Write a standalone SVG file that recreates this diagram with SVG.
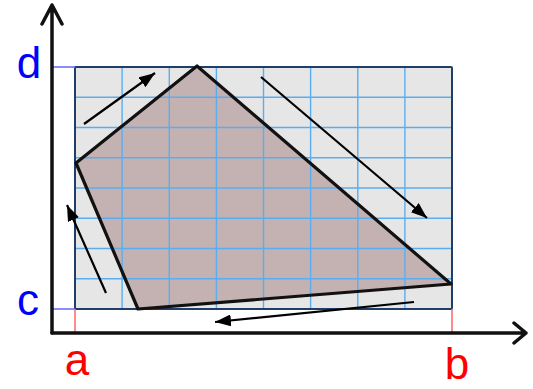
<svg xmlns="http://www.w3.org/2000/svg" width="533" height="389" viewBox="0 0 533 389">
<defs>
<marker id="ah" viewBox="0 0 16 12" refX="16" refY="6" markerWidth="16" markerHeight="12" markerUnits="userSpaceOnUse" orient="auto">
<path d="M0,0 L16,6 L0,12 Z" fill="#000"/>
</marker>
</defs>
<style>
.grid{stroke:#5aaef0;stroke-width:1.4;fill:none}
.lbl{font-family:"Liberation Sans",Arial,sans-serif;font-size:44px;text-anchor:middle}
.axis{stroke:#111;stroke-width:3.5;fill:none;stroke-linecap:round;stroke-linejoin:round}
.flow{stroke:#000;stroke-width:2.2;fill:none;marker-end:url(#ah)}
</style>
<rect width="533" height="389" fill="#fff"/>
<g id="region">
<rect x="75" y="67" width="377" height="242" fill="#e6e6e6"/>
<polygon points="197,66 76,163 138,309 451,284" fill="#c4b1b1"/>
<g class="grid">
<path d="M122.1,67V309M169.3,67V309M216.4,67V309M263.5,67V309M310.6,67V309M357.8,67V309M404.9,67V309"/>
<path d="M75,97.25H452M75,127.5H452M75,157.75H452M75,188H452M75,218.25H452M75,248.5H452M75,278.75H452"/>
</g>
<rect x="75" y="67" width="377" height="242" fill="none" stroke="#1f3f66" stroke-width="2" rx="1"/>
<polygon points="197,66 76,163 138,309 451,284" fill="none" stroke="#111" stroke-width="3.2" stroke-linejoin="round"/>
</g>
<g id="ticks">
<line x1="52" y1="67" x2="75" y2="67" stroke="#6666ff" stroke-width="1.5"/>
<line x1="52" y1="309" x2="75" y2="309" stroke="#6666ff" stroke-width="1.5"/>
<line x1="75" y1="309" x2="75" y2="333" stroke="#ff6666" stroke-width="1.5"/>
<line x1="452" y1="309" x2="452" y2="333" stroke="#ff6666" stroke-width="1.5"/>
</g>
<g id="axes">
<path class="axis" d="M52,333V5M42,24L52,5L62,24"/>
<path class="axis" d="M52,333H526M514,323L526,333L514,343"/>
</g>
<g id="labels">
<text class="lbl" x="29" y="78" fill="#0000ff">d</text>
<text class="lbl" x="28" y="315" fill="#0000ff">c</text>
<text class="lbl" x="77" y="375" fill="#ff0000">a</text>
<text class="lbl" x="457" y="379" fill="#ff0000">b</text>
</g>
<g id="connectors">
<line class="flow" x1="84" y1="124" x2="155" y2="73"/>
<line class="flow" x1="261" y1="77" x2="427" y2="218"/>
<line class="flow" x1="414" y1="302" x2="215" y2="322"/>
<line class="flow" x1="106" y1="293" x2="67" y2="205"/>
</g>
</svg>
